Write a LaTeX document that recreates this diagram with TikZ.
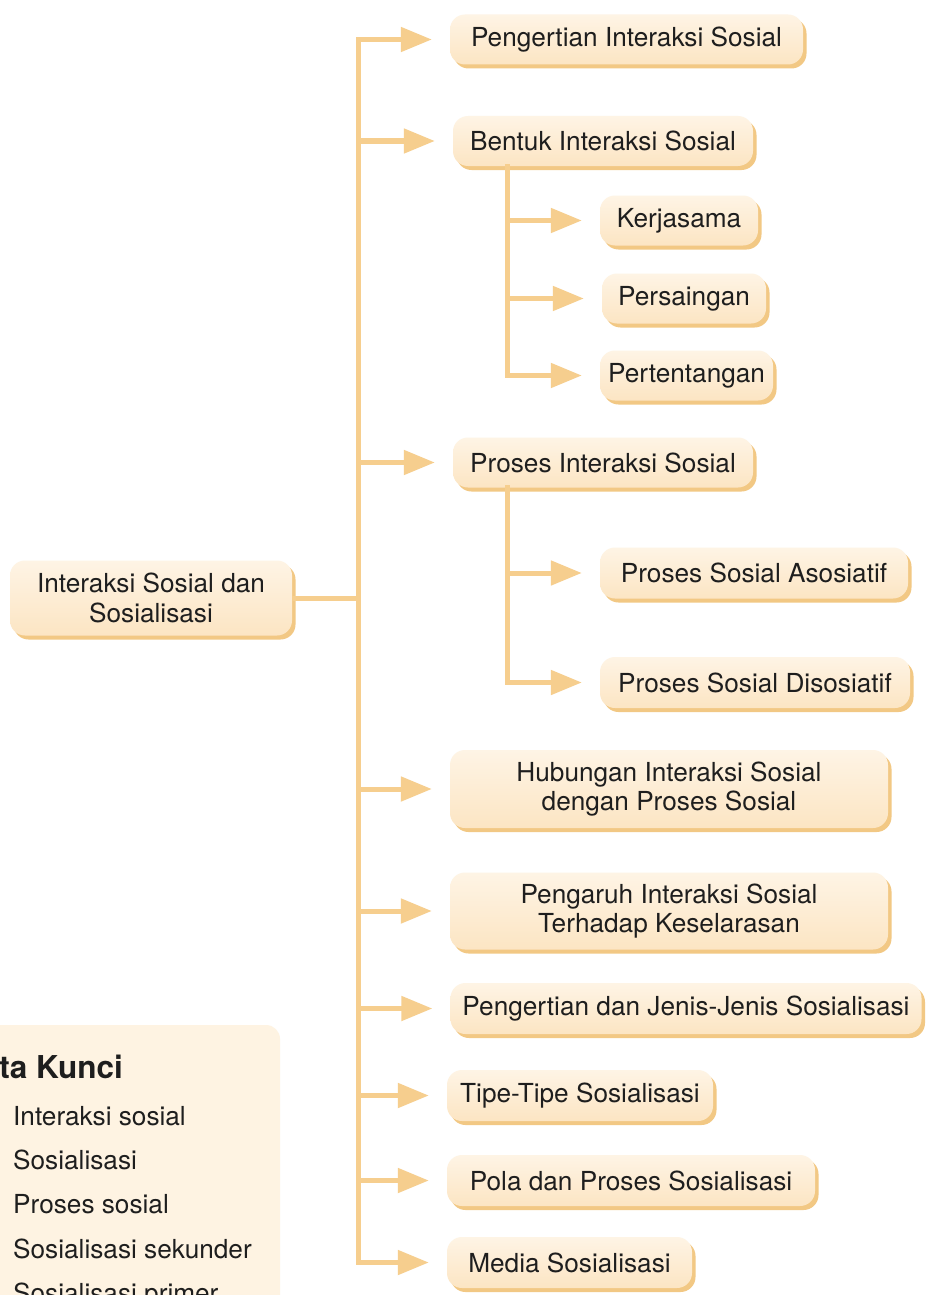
\documentclass[tikz,border=0pt]{standalone}
\usepackage{fontspec}
\setmainfont{TeX Gyre Heros}
\usetikzlibrary{arrows.meta,shadows,calc}
\definecolor{linec}{RGB}{246,206,142}
\definecolor{nodetop}{RGB}{254,244,229}
\definecolor{nodebot}{RGB}{252,229,195}
\definecolor{shadowc}{RGB}{242,200,132}
\definecolor{kkfill}{RGB}{254,243,226}
\definecolor{txt}{RGB}{30,30,30}
\tikzset{
  box/.style={rounded corners=15pt, top color=nodetop, bottom color=nodebot, draw=none,
    inner xsep=2pt, inner ysep=2pt, align=center, text=txt,
    font=\fontsize{26.2}{29.5}\selectfont,
    drop shadow={shadow xshift=3.5pt, shadow yshift=-4pt, fill=shadowc, opacity=1}},
  conn/.style={draw=linec, line width=5pt},
  arr/.style={conn, -{Triangle[length=31pt,width=24pt]}, shorten >=18pt},
  kk/.style={anchor=base west, inner sep=0pt, text=txt, font=\fontsize{26.2}{29.5}\selectfont},
}
\begin{document}
\begin{tikzpicture}[x=1pt,y=-1pt]
\useasboundingbox (0,0) rectangle (926,1295);
\clip (0,0) rectangle (926,1295);
\fill[white] (0,0) rectangle (926,1295);

% Kata Kunci panel
\fill[kkfill, rounded corners=14pt] (-30,1025) rectangle (280,1340);
\node[kk, font=\fontsize{31.5}{34}\selectfont\bfseries] (kkt) at (-41,1078) {Kata Kunci};
\node[kk] (kk1) at (13,1125) {Interaksi sosial};
\node[kk] (kk2) at (13,1169) {Sosialisasi};
\node[kk] (kk3) at (13,1213) {Proses sosial};
\node[kk] (kk4) at (13,1258) {Sosialisasi sekunder};
\node[kk] (kk5) at (13,1302) {Sosialisasi primer};

% nodes
\node[box, minimum width=282pt, minimum height=75pt] (root) at (151,598) {Interaksi Sosial dan\\Sosialisasi};
\node[box, minimum width=353pt, minimum height=50pt] (n1) at (626.5,39.5) {Pengertian Interaksi Sosial};
\node[box, minimum width=300pt, minimum height=50pt] (n2) at (603,141) {Bentuk Interaksi Sosial};
\node[box, minimum width=158pt, minimum height=50pt] (k1) at (679,220.5) {Kerjasama};
\node[box, minimum width=164pt, minimum height=50pt] (k2) at (684,298.5) {Persaingan};
\node[box, minimum width=173pt, minimum height=50pt] (k3) at (686.5,375.5) {Pertentangan};
\node[box, minimum width=300pt, minimum height=50pt] (n3) at (603,462.5) {Proses Interaksi Sosial};
\node[box, minimum width=308pt, minimum height=51pt] (p1) at (754,573) {Proses Sosial Asosiatif};
\node[box, minimum width=310pt, minimum height=51pt] (p2) at (755,682.5) {Proses Sosial Disosiatif};
\node[box, minimum width=438pt, minimum height=78pt] (n4) at (669,789) {Hubungan Interaksi Sosial\\dengan Proses Sosial};
\node[box, minimum width=438pt, minimum height=77pt] (n5) at (669,911) {Pengaruh Interaksi Sosial\\Terhadap Keselarasan};
\node[box, minimum width=471pt, minimum height=51pt] (n6) at (686,1008.5) {Pengertian dan Jenis-Jenis Sosialisasi};
\node[box, minimum width=266pt, minimum height=51pt] (n7) at (580,1095.5) {Tipe-Tipe Sosialisasi};
\node[box, minimum width=368pt, minimum height=51pt] (n8) at (631,1180.5) {Pola dan Proses Sosialisasi};
\node[box, minimum width=245pt, minimum height=51pt] (n9) at (569.5,1262.5) {Media Sosialisasi};

% main trunk
\coordinate (T) at (358,0);
\draw[conn, line cap=rect] (T |- n1.west) -- (T |- n9.west);
\draw[conn] (root.east) -- (root.east -| T);
\foreach \n in {n1,n2,n3,n4,n5,n6,n7,n8,n9}
  \draw[arr] (T |- \n.west) -- (\n.west);

% sub trunk 1
\coordinate (S1) at (507,0);
\draw[conn, line cap=rect] (n2.south -| S1) -- (S1 |- k3.west);
\foreach \n in {k1,k2,k3}
  \draw[arr] (S1 |- \n.west) -- (\n.west);

% sub trunk 2
\draw[conn, line cap=rect] (n3.south -| S1) -- (S1 |- p2.west);
\foreach \n in {p1,p2}
  \draw[arr] (S1 |- \n.west) -- (\n.west);
\end{tikzpicture}
\end{document}
